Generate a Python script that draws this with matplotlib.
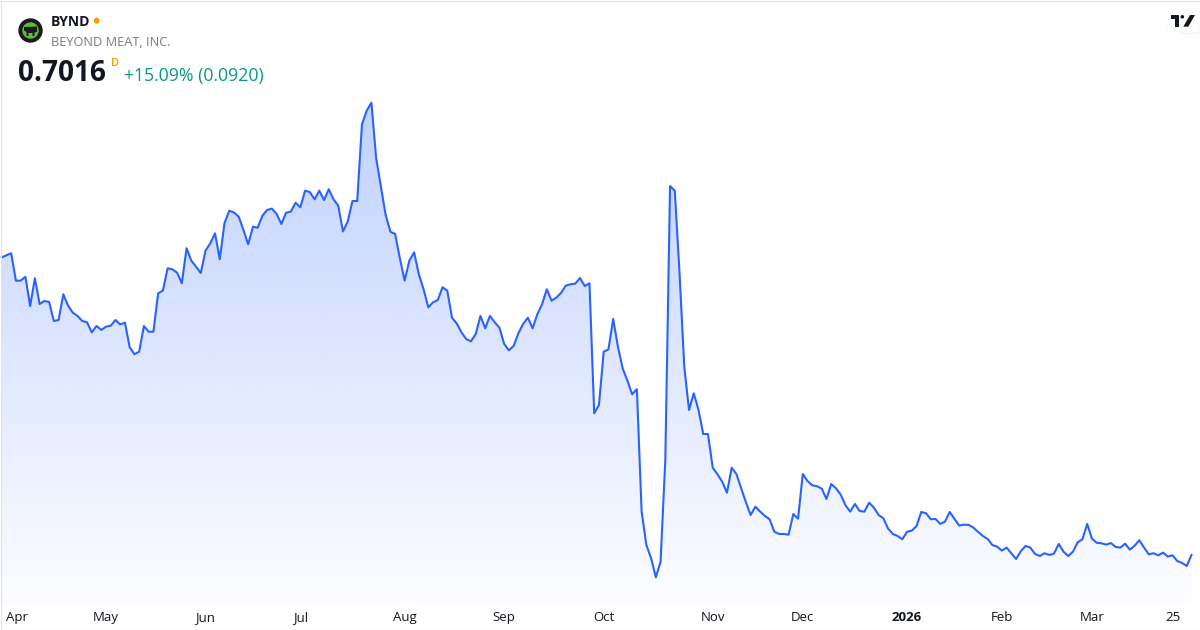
import numpy as np
import matplotlib
matplotlib.use("Agg")
import matplotlib.pyplot as plt
from matplotlib.patches import Ellipse, FancyBboxPatch, Polygon, Rectangle

plt.rcParams["font.family"] = ["Open Sans", "DejaVu Sans"]

# --- Data ---------------------------------------------------------------

ticker = "BYND"
company = "BEYOND MEAT, INC."
last_price = "0.7016"
interval = "D"
change_text = "+15.09% (0.0920)"

# Daily closes, one per trading day, 2025-03-31 .. 2026-03-31.
close = [
    3.190, 3.207, 3.224, 2.995, 2.995, 3.028, 2.783, 3.015, 2.800, 2.825,
    2.817, 2.658, 2.666, 2.881, 2.786, 2.727, 2.700, 2.658, 2.647, 2.563,
    2.616, 2.583, 2.610, 2.619, 2.666, 2.629, 2.644, 2.438, 2.380, 2.401,
    2.616, 2.568, 2.568, 2.889, 2.911, 3.098, 3.090, 3.062, 2.973, 3.266,
    3.162, 3.112, 3.059, 3.246, 3.307, 3.391, 3.174, 3.475, 3.580, 3.565,
    3.530, 3.419, 3.299, 3.446, 3.438, 3.538, 3.586, 3.597, 3.552, 3.469,
    3.563, 3.572, 3.647, 3.608, 3.747, 3.736, 3.675, 3.747, 3.669, 3.759,
    3.675, 3.622, 3.406, 3.490, 3.661, 3.661, 4.302, 4.416, 4.483, 4.018,
    3.781, 3.544, 3.404, 3.385, 3.182, 2.995, 3.162, 3.232, 3.048, 2.923,
    2.772, 2.814, 2.833, 2.940, 2.911, 2.685, 2.637, 2.562, 2.507, 2.488,
    2.549, 2.700, 2.597, 2.700, 2.647, 2.602, 2.466, 2.413, 2.449, 2.555,
    2.633, 2.685, 2.597, 2.714, 2.798, 2.923, 2.828, 2.853, 2.892, 2.953,
    2.965, 2.970, 3.017, 2.950, 2.973, 1.886, 1.956, 2.401, 2.421, 2.675,
    2.443, 2.262, 2.159, 2.045, 2.087, 1.064, 0.785, 0.674, 0.515, 0.646,
    1.496, 3.786, 3.747, 3.057, 2.276, 1.914, 2.053, 1.914, 1.713, 1.713,
    1.431, 1.376, 1.314, 1.222, 1.431, 1.378, 1.259, 1.142, 1.036, 1.105,
    1.064, 1.028, 1.000, 0.896, 0.877, 0.877, 0.871, 1.044, 1.005, 1.378,
    1.320, 1.284, 1.276, 1.256, 1.170, 1.295, 1.259, 1.206, 1.117, 1.064,
    1.128, 1.069, 1.064, 1.139, 1.097, 1.036, 1.008, 0.922, 0.877, 0.860,
    0.833, 0.896, 0.905, 0.944, 1.061, 1.050, 1.000, 1.003, 0.961, 0.980,
    1.061, 1.003, 0.947, 0.955, 0.953, 0.930, 0.894, 0.860, 0.835, 0.785,
    0.771, 0.738, 0.763, 0.716, 0.668, 0.733, 0.777, 0.763, 0.710, 0.693,
    0.716, 0.702, 0.713, 0.794, 0.729, 0.693, 0.729, 0.808, 0.833, 0.961,
    0.838, 0.804, 0.799, 0.788, 0.801, 0.769, 0.763, 0.796, 0.746, 0.779,
    0.825, 0.763, 0.707, 0.716, 0.699, 0.721, 0.688, 0.699, 0.651, 0.635,
    0.6096, 0.7016,
]

# Trading-day index of each axis label.
tick_pos = [1, 22, 43, 63, 85, 106, 127, 150, 169, 191, 211, 230, 247]
tick_labels = ["Apr", "May", "Jun", "Jul", "Aug", "Sep", "Oct", "Nov", "Dec",
               "2026", "Feb", "Mar", "25"]

# --- Figure -------------------------------------------------------------

W, H = 1200, 630
fig = plt.figure(figsize=(W / 100, H / 100), dpi=100, facecolor="white")


def px(x, y):
    """Pixel position (from top-left) -> figure fraction."""
    return x / W, 1 - y / H


def disc(cx, cy, r, color):
    """A true circle of radius r pixels, placed in figure coordinates."""
    fig.add_artist(Ellipse(px(cx, cy), 2 * r / W, 2 * r / H,
                           transform=fig.transFigure, facecolor=color,
                           edgecolor="none"))


ax = fig.add_axes([0, (H - 603) / H, 1, (603 - 90) / H])
ax.set_facecolor("none")
x = np.arange(len(close))
ax.set_xlim(-0.36, 252.8)
ax.set_ylim(0.300, 4.589)
y0, y1 = ax.get_ylim()

# Gradient area under the line.
n = 256
alpha = np.linspace(0.015, 0.30, n)
img = np.zeros((n, 1, 4))
img[..., 0] = 41 / 255
img[..., 1] = 98 / 255
img[..., 2] = 255 / 255
img[..., 3] = alpha[:, None]
im = ax.imshow(img, extent=[x[0], x[-1], y0, y1], origin="lower",
               aspect="auto", zorder=1, interpolation="bilinear")
verts = np.vstack([np.column_stack([x, close]),
                   [[x[-1], y0], [x[0], y0]]])
clip = Polygon(verts, closed=True, transform=ax.transData,
               facecolor="none", edgecolor="none")
ax.add_patch(clip)
im.set_clip_path(clip)

ax.plot(x, close, color="#2962FF", lw=1.5, zorder=3, solid_joinstyle="round")

for s in ax.spines.values():
    s.set_visible(False)
ax.set_yticks([])
ax.set_xticks(tick_pos)
ax.set_xticklabels(tick_labels)
ax.tick_params(axis="x", length=0, pad=6, labelsize=9.5, labelcolor="#131722")
labels = ax.get_xticklabels()
labels[0].set_horizontalalignment("left")
labels[9].set_fontweight("bold")

# --- Header -------------------------------------------------------------

# Company logo: dark disc, green inner disc, dark silhouette.
disc(30.5, 30.5, 12.2, "#1b1b1b")
disc(30.5, 30.5, 8.2, "#5bbf3a")
fig.add_artist(Polygon([px(24, 27), px(37, 26.5), px(37, 32), px(34.5, 32.5),
                        px(34.5, 36), px(32.5, 36), px(32.5, 33),
                        px(28.5, 33), px(28.5, 36), px(26.5, 36),
                        px(26.5, 32), px(24, 30.5)],
                       closed=True, transform=fig.transFigure,
                       facecolor="#1b1b1b", edgecolor="none"))

fig.text(*px(51, 26), ticker, fontsize=10, fontweight="bold",
         color="#131722", va="baseline", ha="left")
disc(96.7, 20.7, 3.0, "#FF9800")
fig.text(*px(51, 46), company, fontsize=9.2, color="#787B86",
         va="baseline", ha="left")
fig.text(*px(18, 81), last_price, fontsize=20.2, fontweight="bold",
         color="#131722", va="baseline", ha="left")
fig.text(*px(110.5, 65.7), interval, fontsize=8, fontweight="semibold",
         color="#FF9800", va="baseline", ha="left")
fig.text(*px(124, 81.5), change_text, fontsize=12.7, color="#089981",
         va="baseline", ha="left")

# TradingView badge, top right.
bx0, by0, bx1, by1 = 1167, 9, 1212, 33
fig.add_artist(FancyBboxPatch(px(bx0, by1 + 1), (bx1 - bx0) / W, (by1 - by0) / H,
                              boxstyle="round,pad=0,rounding_size=0.018",
                              transform=fig.transFigure, facecolor="#eef0f4",
                              edgecolor="none", mutation_aspect=W / H))
fig.add_artist(FancyBboxPatch(px(bx0, by1), (bx1 - bx0) / W, (by1 - by0) / H,
                              boxstyle="round,pad=0,rounding_size=0.018",
                              transform=fig.transFigure, facecolor="white",
                              edgecolor="none", mutation_aspect=W / H))
fig.add_artist(Polygon([px(1170.7, 15), px(1179.3, 15), px(1179.3, 26.7),
                        px(1175.3, 26.7), px(1175.3, 18.5), px(1170.7, 18.5)],
                       closed=True, transform=fig.transFigure,
                       facecolor="#131722", edgecolor="none"))
disc(1182.3, 16.8, 1.8, "#131722")
fig.add_artist(Polygon([px(1190, 15), px(1195, 15), px(1188.3, 26.7),
                        px(1183.3, 26.7)],
                       closed=True, transform=fig.transFigure,
                       facecolor="#131722", edgecolor="none"))

# Outer frame.
fig.add_artist(Rectangle((0.5 / W, 0.5 / H), (W - 1) / W, (H - 1) / H,
                         transform=fig.transFigure, facecolor="none",
                         edgecolor="#E0E3EB", lw=0.8))

fig.savefig("out.png", dpi=100, facecolor="white")
